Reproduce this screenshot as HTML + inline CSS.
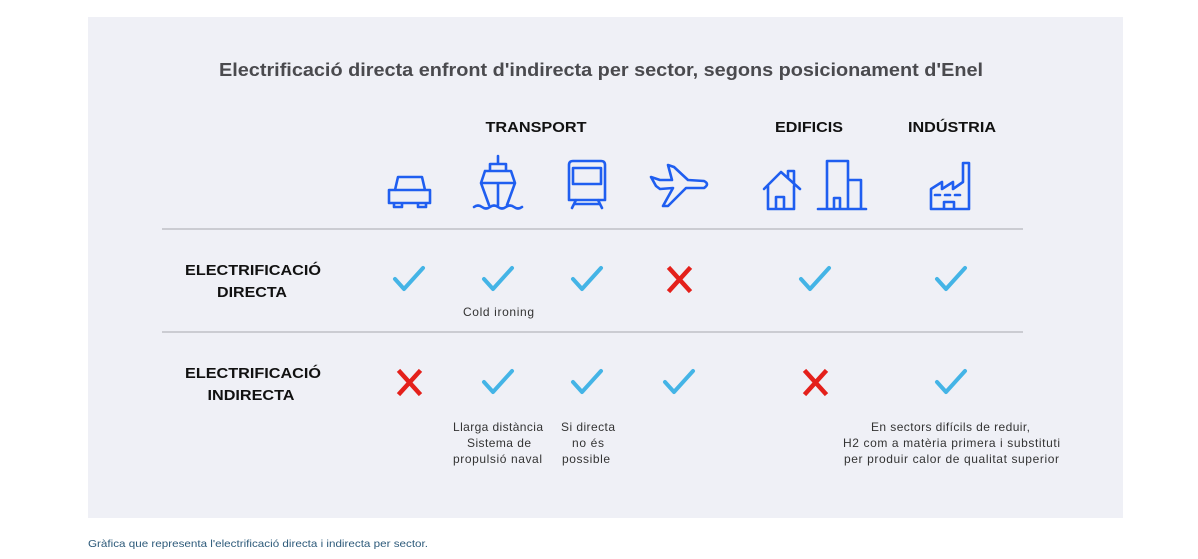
<!DOCTYPE html>
<html><head><meta charset="utf-8"><style>
body{margin:0;width:1198px;height:559px;background:#fff;overflow:hidden;font-family:"Liberation Sans",sans-serif}
svg{display:block}
</style></head><body>
<svg width="1198" height="559" viewBox="0 0 1198 559" font-family="Liberation Sans, sans-serif">
<rect x="88" y="17" width="1035" height="501" fill="#eff0f6"/>
<text x="219" y="76" font-size="18" font-weight="bold" fill="#4a4a4e" textLength="764" lengthAdjust="spacingAndGlyphs">Electrificació directa enfront d'indirecta per sector, segons posicionament d'Enel</text>
<g font-size="14.5" font-weight="bold" fill="#111" text-anchor="middle">
<text x="536" y="132" textLength="101" lengthAdjust="spacingAndGlyphs">TRANSPORT</text>
<text x="809" y="132" textLength="68" lengthAdjust="spacingAndGlyphs">EDIFICIS</text>
<text x="952" y="132" textLength="88" lengthAdjust="spacingAndGlyphs">INDÚSTRIA</text>
<text x="253" y="275" textLength="136" lengthAdjust="spacingAndGlyphs">ELECTRIFICACIÓ</text>
<text x="252" y="297" textLength="70" lengthAdjust="spacingAndGlyphs">DIRECTA</text>
<text x="253" y="378" textLength="136" lengthAdjust="spacingAndGlyphs">ELECTRIFICACIÓ</text>
<text x="251" y="400" textLength="87" lengthAdjust="spacingAndGlyphs">INDIRECTA</text>
</g>
<line x1="162" y1="229" x2="1023" y2="229" stroke="#bfc0c6" stroke-width="1.5"/>
<line x1="162" y1="332" x2="1023" y2="332" stroke="#bfc0c6" stroke-width="1.5"/>
<g fill="none" stroke="#1f5ef0" stroke-width="2.6" stroke-linecap="round" stroke-linejoin="round">
<path d="M395 190 L398 177 H422 L425 190 M389 190 H430 V203 H389 Z M394 203 v4 h8 v-4 M418 203 v4 h8 v-4"/>
<path d="M498 156 V164 M490 164 H506 V171 H490 Z M485 171 H511 L515 183 L507 205 M485 171 L481 183 L489 205 M481 183 H515 M498 183 V205 M474 207 q4 -3 8 0 q4 3 8 0 q4 -3 8 0 q4 3 8 0 q4 -3 8 0 q4 3 8 0"/>
<path d="M569 200 V165 Q569 161 573 161 H601 Q605 161 605 165 V200 Z M573 168 H601 V184 H573 Z M576 200 L572 208 M598 200 L602 208 M574 204 H600"/>
<path d="M651 177 L660 180 L672 180 L668 165 L674 167 L688 180 L704 181 Q710 184 704 188 L686 188 L668 206 L663 206 L673 188 L660 189 L656 186 Z"/>
<path d="M764 189 L781 172 L800 189 M768 186 V209 H794 V186 M788 178 V171 H794 V184 M776 209 V197 H784 V209"/>
<path d="M818 209 H866 M827 209 V161 H848 V209 M848 180 H861 V209 M834 209 V198 H840 V209"/>
<path d="M931 209 V189 L942 182 V189 L953 182 V189 L963 182 V163 L969 163 V209 Z M935 195 h5 M945 195 h5 M955 195 h5 M944 209 V202 H954 V209"/>
</g>
<g fill="none" stroke="#44b4e6" stroke-width="4" stroke-linecap="round" stroke-linejoin="round">
<path d="M395 279 L404 289 L423 268"/>
<path d="M484 279 L493 289 L512 268"/>
<path d="M573 279 L582 289 L601 268"/>
<path d="M801 279 L810 289 L829 268"/>
<path d="M937 279 L946 289 L965 268"/>
<path d="M484 382 L493 392 L512 371"/>
<path d="M573 382 L582 392 L601 371"/>
<path d="M665 382 L674 392 L693 371"/>
<path d="M937 382 L946 392 L965 371"/>
</g>
<g stroke="#e4201b" stroke-width="4.5" stroke-linecap="square">
<path d="M670 269 L689 290 M689 269 L670 290"/>
<path d="M400 372 L419 393 M419 372 L400 393"/>
<path d="M806 372 L825 393 M825 372 L806 393"/>
</g>
<g font-size="12" fill="#333" lengthAdjust="spacingAndGlyphs">
<text x="463" y="316" textLength="71">Cold ironing</text>
<text x="453" y="431" textLength="90">Llarga distància</text>
<text x="467" y="447" textLength="64">Sistema de</text>
<text x="453" y="463" textLength="89">propulsió naval</text>
<text x="561" y="431" textLength="54">Si directa</text>
<text x="572" y="447" textLength="32">no és</text>
<text x="562" y="463" textLength="48">possible</text>
<text x="871" y="431" textLength="159">En sectors difícils de reduir,</text>
<text x="843" y="447" textLength="217">H2 com a matèria primera i substituti</text>
<text x="844" y="463" textLength="215">per produir calor de qualitat superior</text>
</g>
<text x="88" y="547" font-size="10.5" fill="#2d5a7a" textLength="340" lengthAdjust="spacingAndGlyphs">Gràfica que representa l'electrificació directa i indirecta per sector.</text>
</svg>
</body></html>
